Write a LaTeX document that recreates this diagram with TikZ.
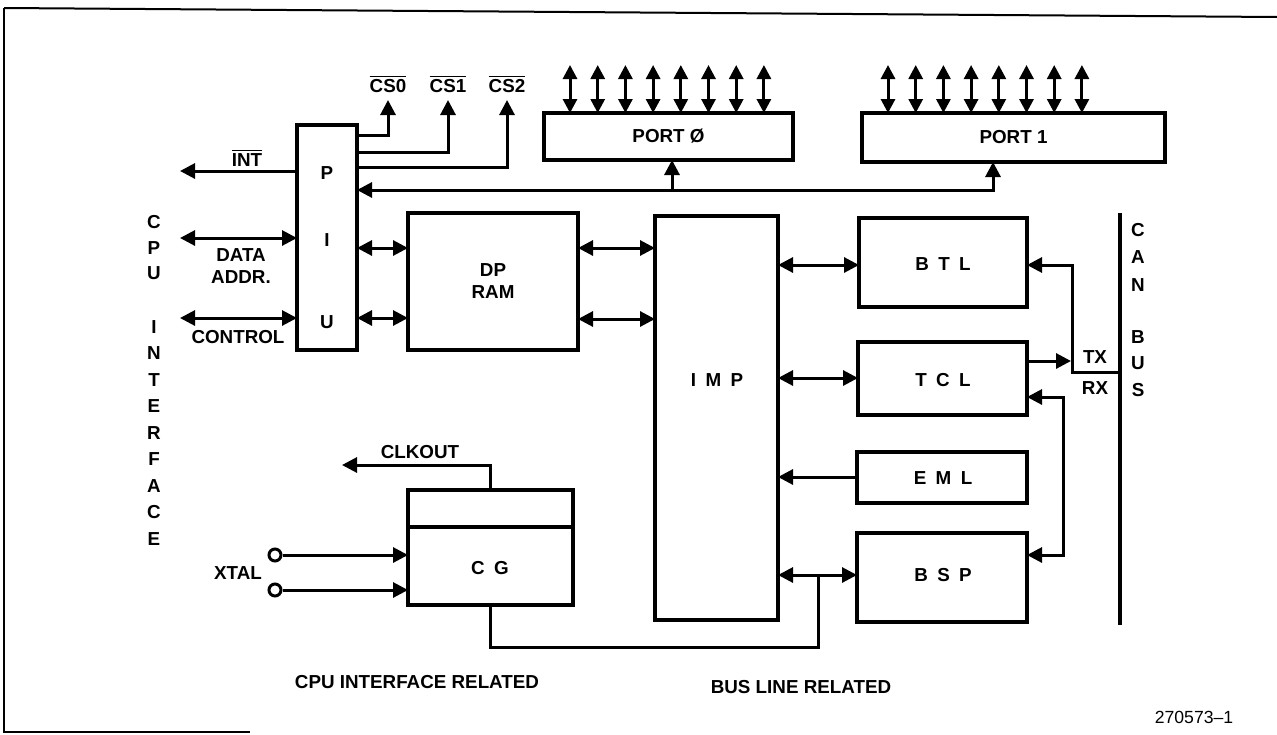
\documentclass[tikz,border=0pt]{standalone}
\usepackage{fontspec}
\setmainfont{Liberation Sans}
\usetikzlibrary{arrows.meta}
\begin{document}
\begin{tikzpicture}[x=0.5pt,y=-0.5pt,
  box/.style={draw, line width=2pt, inner sep=0pt, outer sep=0pt},
  wire/.style={line width=1.5pt},
  tip/.style={-{Triangle[length=7.5pt,width=7.5pt]}},
  dbl/.style={{Triangle[length=7.5pt,width=7.5pt]}-{Triangle[length=7.5pt,width=7.5pt]}},
  pin/.style={{Triangle[length=7pt,width=7pt]}-{Triangle[length=7pt,width=7pt]}},
  lbl/.style={font=\bfseries\fontsize{9.4}{11}\selectfont, inner sep=0pt, align=center},
  port/.style={draw, line width=1.5pt, circle, minimum size=6pt, inner sep=0pt, fill=white},
]
\useasboundingbox (0,0) rectangle (1277,734);
% frame
\draw[line width=1pt] (4,8) -- (1277,17);
\draw[line width=1pt] (4,8) -- (4,732) -- (250,732);

% boxes
\node[box, minimum width=30pt,   minimum height=112.5pt] (piu)   at (327,237.5) {};
\node[box, minimum width=124.5pt,minimum height=23.5pt]  (port0) at (668.5,136.5) {};
\node[box, minimum width=151.5pt,minimum height=24.5pt]  (port1) at (1013.5,137.5) {};
\node[box, minimum width=85pt,   minimum height=68.5pt]  (dpram) at (493,281.5) {};
\node[box, minimum width=61.5pt, minimum height=202pt]   (imp)   at (716.5,418) {};
\node[box, minimum width=84pt,   minimum height=44.5pt]  (btl)   at (943,262.5) {};
\node[box, minimum width=84.5pt, minimum height=36.5pt]  (tcl)   at (942.5,378.5) {};
\node[box, minimum width=85pt,   minimum height=25.5pt]  (eml)   at (942,477.5) {};
\node[box, minimum width=85pt,   minimum height=44.5pt]  (bsp)   at (942,577.5) {};
\node[box, minimum width=82.5pt, minimum height=57.5pt]  (cg)    at (490.5,547.5) {};
\draw[line width=2pt] (cg.west |- 0,527) -- (cg.east |- 0,527);

% box labels
\node[lbl] (lp) at (327,173) {P};
\node[lbl] (li) at (327,240) {I};
\node[lbl] (lu) at (327,322) {U};
\node[lbl] (lport0) at (port0) {PORT Ø};
\node[lbl] (lport1) at (port1) {PORT 1};
\node[lbl] (ldp) at (493,281) {DP\\RAM};
\node[lbl] (limp) at (717,380) {I\,\,\,M\,\,\,P};
\node[lbl] (lbtl) at (943,264) {B\,\,\,T\,\,\,L};
\node[lbl] (ltcl) at (943,380) {T\,\,\,C\,\,\,L};
\node[lbl] (leml) at (943,478) {E\,\,\,M\,\,\,L};
\node[lbl] (lbsp) at (943,575) {B\,\,\,S\,\,\,P};
\node[lbl] (lcg) at (490,568) {C\,\,\,G};

% free ends
\coordinate (intend)  at (180,171);
\coordinate (dataend) at (180,238);
\coordinate (ctrlend) at (180,318);
\coordinate (cs0) at (388,100);
\coordinate (cs1) at (448,100);
\coordinate (cs2) at (507,100);
\coordinate (b0) at (672,190);
\coordinate (b1) at (993,190);
\coordinate (clkend) at (342,465);
\coordinate (j) at (818,575);
\coordinate (canTop) at (1120,213);
\coordinate (canBot) at (1120,625);
\coordinate (canj) at (1120,372);
\node[port] (x1) at (275,555) {};
\node[port] (x2) at (275,590) {};

% CPU side
\draw[wire,tip] (piu.west |- intend) -- (intend);
\draw[wire,dbl] (piu.west |- dataend) -- (dataend);
\draw[wire,dbl] (piu.west |- ctrlend) -- (ctrlend);
\draw[wire,tip] (piu.east |- 0,135) -| (cs0);
\draw[wire,tip] (piu.east |- 0,152) -| (cs1);
\draw[wire,tip] (piu.east |- 0,167) -| (cs2);
\node[lbl] (lcs0) at (388,84) {$\overline{\mbox{\bfseries CS0}}$};
\node[lbl] (lcs1) at (448,84) {$\overline{\mbox{\bfseries CS1}}$};
\node[lbl] (lcs2) at (507,84) {$\overline{\mbox{\bfseries CS2}}$};
\node[lbl] (lint) at (247,158) {$\overline{\mbox{\bfseries INT}}$};
\node[lbl] (ldata) at (241,266) {DATA\\ADDR.};
\node[lbl] (lctrl) at (238,337) {CONTROL};

% internal bus to ports
\draw[wire,dbl] (piu.east |- b1) -- (b1) -- (port1.south -| b1);
\draw[wire,tip] (b0) -- (port0.south -| b0);
\foreach \i in {0,...,7} {
  \draw[wire,pin] (570+27.7*\i,65) -- (port0.north -| 570+27.7*\i,0);
  \draw[wire,pin] (888+27.7*\i,65) -- (port1.north -| 888+27.7*\i,0);
}

% PIU - DPRAM - IMP
\draw[wire,dbl] (piu.east |- 0,248) -- (dpram.west |- 0,248);
\draw[wire,dbl] (piu.east |- 0,318) -- (dpram.west |- 0,318);
\draw[wire,dbl] (dpram.east |- 0,248) -- (imp.west |- 0,248);
\draw[wire,dbl] (dpram.east |- 0,319) -- (imp.west |- 0,319);

% IMP - bus blocks
\draw[wire,dbl] (imp.east |- 0,265) -- (btl.west |- 0,265);
\draw[wire,dbl] (imp.east |- 0,378) -- (tcl.west |- 0,378);
\draw[wire,tip] (eml.west |- 0,477) -- (imp.east |- 0,477);
\draw[wire,dbl] (imp.east |- j) -- (bsp.west |- j);

% CAN bus
\draw[line width=2pt] (canTop) -- (canBot);
\draw[wire,tip] (canj) -| (1072,265) -- (btl.east |- 0,265);
\draw[wire,tip] (tcl.east |- 0,361) -- (1071,361);
\draw[wire,dbl] (tcl.east |- 0,397) -| (1063,555) -- (bsp.east |- 0,555);
\node[lbl] (ltx) at (1095,357) {TX};
\node[lbl] (lrx) at (1095,388) {RX};
\foreach \c/\y in {C/230,A/257,N/285,B/337,U/363,S/390}
  \node[lbl] at (1138,\y) {\c};

% CG
\draw[wire,tip] (cg.north) |- (clkend);
\node[lbl] (lclk) at (420,452) {CLKOUT};
\draw[wire,tip] (x1) -- (cg.west |- x1);
\draw[wire,tip] (x2) -- (cg.west |- x2);
\node[lbl] (lxtal) at (238,573) {XTAL};
\draw[wire] (cg.south) |- (j |- 0,647) -- (j);

% CPU INTERFACE vertical
\foreach \c/\y in {C/222,P/248,U/273,I/327,N/353.5,T/380,E/406.5,R/433,F/459.5,A/486,C/512.5,E/539}
  \node[lbl] at (154,\y) {\c};

\node[lbl] (lcpur) at (417,682) {CPU INTERFACE RELATED};
\node[lbl] (lbusr) at (801,687) {BUS LINE RELATED};
\node[inner sep=0pt, font=\fontsize{8.8}{10}\selectfont] (lnum) at (1194,717) {270573--1};
\end{tikzpicture}
\end{document}
